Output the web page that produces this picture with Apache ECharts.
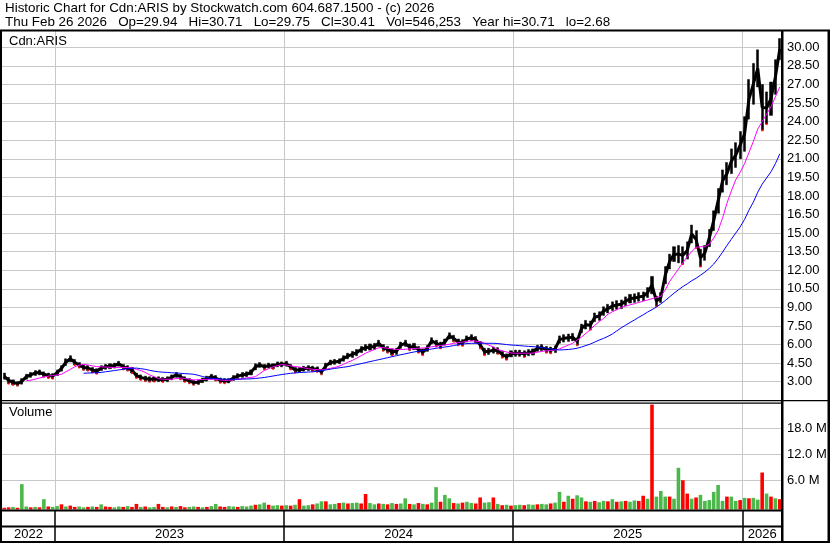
<!DOCTYPE html>
<html><head><meta charset="utf-8">
<script src="https://cdn.jsdelivr.net/npm/echarts@6/dist/echarts.min.js"></script>
<style>html,body{margin:0;padding:0;background:#fff}#c{width:830px;height:543px}</style>
</head><body><div id="c"></div>
<script>
// ---------------- data ----------------
const headerLines = [
  'Historic Chart for Cdn:ARIS by Stockwatch.com 604.687.1500 - (c) 2026',
  'Thu Feb 26 2026   Op=29.94   Hi=30.71   Lo=29.75   Cl=30.41   Vol=546,253   Year hi=30.71   lo=2.68'
];
const symbolLabel = 'Cdn:ARIS';
const volumeLabel = 'Volume';
const firstWeek = '2022-10-10';          // weekly categories start here
const yearLabels = ['2022', '2023', '2024', '2025', '2026'];

const weekLow = [
3.20,2.85,2.75,2.68,2.80,3.20,3.35,3.50,3.55,3.40,
3.30,3.25,3.50,3.85,4.30,4.60,4.35,4.15,3.95,3.90,
3.75,3.65,3.90,4.00,4.05,4.10,4.25,4.00,3.90,3.70,
3.30,3.15,3.05,3.00,3.02,3.00,2.98,3.00,3.15,3.35,
3.20,3.00,2.88,2.75,2.78,2.92,3.05,3.20,3.10,2.92,
2.88,2.90,3.10,3.25,3.35,3.40,3.55,3.95,4.15,4.00,
4.10,4.05,4.20,4.20,4.25,4.00,3.75,3.75,3.85,3.90,
3.85,3.80,3.60,4.05,4.35,4.40,4.45,4.65,4.85,4.95,
5.10,5.35,5.50,5.55,5.60,5.85,5.50,5.35,5.15,5.20,
5.70,5.85,5.55,5.60,5.35,5.15,5.45,6.05,5.85,5.70,
5.95,6.45,6.25,5.95,5.90,6.20,6.30,6.15,5.70,5.15,
5.20,5.30,5.25,4.95,4.78,5.00,5.05,5.05,5.00,5.10,
5.15,5.45,5.50,5.35,5.30,5.35,6.10,6.20,6.25,6.30,
5.95,6.95,7.25,7.20,7.85,7.95,8.35,8.55,8.75,8.85,
8.90,9.15,9.35,9.40,9.50,9.55,9.80,10.10,9.10,9.40,
10.90,12.10,12.70,12.60,12.50,12.90,14.20,13.80,12.30,12.80,
13.90,15.20,16.60,18.30,18.90,19.80,20.30,21.00,21.60,24.20,
25.40,26.80,23.30,23.80,24.50,26.20,29.00];

const weekHigh = [
3.70,3.35,3.15,3.00,3.25,3.60,3.75,3.90,3.95,3.80,
3.70,3.65,3.95,4.30,4.85,5.10,4.80,4.55,4.35,4.30,
4.15,4.05,4.30,4.40,4.45,4.50,4.65,4.40,4.30,4.15,
3.70,3.55,3.45,3.40,3.38,3.40,3.35,3.40,3.55,3.75,
3.60,3.40,3.25,3.10,3.15,3.30,3.45,3.60,3.50,3.30,
3.25,3.25,3.50,3.65,3.75,3.80,3.95,4.45,4.55,4.40,
4.50,4.45,4.60,4.60,4.65,4.40,4.15,4.15,4.25,4.30,
4.25,4.20,4.00,4.50,4.75,4.80,4.85,5.10,5.30,5.45,
5.60,5.85,6.00,6.05,6.10,6.35,6.00,5.85,5.65,5.70,
6.20,6.35,6.05,6.10,5.85,5.65,5.95,6.55,6.35,6.20,
6.45,6.95,6.75,6.45,6.40,6.70,6.80,6.65,6.25,5.70,
5.70,5.80,5.75,5.45,5.25,5.50,5.55,5.55,5.50,5.60,
5.65,5.95,6.00,5.85,5.80,5.90,6.70,6.80,6.85,6.90,
6.55,7.65,7.95,7.90,8.55,8.65,9.05,9.25,9.45,9.55,
9.60,9.85,10.05,10.10,10.20,10.25,10.60,11.50,9.90,10.20,
12.30,13.30,13.90,14.00,13.90,14.30,15.65,15.20,13.70,14.00,
15.30,16.80,18.60,20.10,20.70,21.80,22.30,23.20,24.40,27.40,
28.70,29.80,27.00,26.40,27.20,29.00,30.71];

// magenta (short) moving average
const maShort = [
null,null,null,null,null,3.08,3.12,3.20,3.30,3.38,
3.45,3.50,3.55,3.60,3.80,4.00,4.20,4.33,4.40,4.35,
4.28,4.22,4.20,4.18,4.16,4.15,4.15,4.15,4.15,4.10,
4.00,3.90,3.75,3.55,3.40,3.25,3.20,3.20,3.20,3.25,
3.30,3.25,3.20,3.15,3.15,3.18,3.20,3.20,3.18,3.15,
3.10,3.12,3.15,3.20,3.25,3.30,3.35,3.40,3.65,3.90,
4.05,4.20,4.30,4.38,4.35,4.28,4.22,4.18,4.12,4.06,
4.00,3.98,3.95,4.00,4.08,4.15,4.25,4.40,4.58,4.72,
4.90,5.10,5.30,5.45,5.60,5.75,5.75,5.70,5.65,5.60,
5.60,5.62,5.65,5.68,5.70,5.72,5.75,5.82,5.88,5.92,
5.97,6.02,6.10,6.15,6.20,6.25,6.30,6.28,6.22,6.10,
5.95,5.80,5.60,5.50,5.40,5.32,5.30,5.30,5.30,5.30,
5.30,5.38,5.45,5.50,5.52,5.55,5.65,5.80,5.95,6.10,
6.35,6.60,6.90,7.20,7.55,7.85,8.10,8.45,8.65,8.80,
9.00,9.10,9.20,9.30,9.40,9.50,9.60,9.70,9.80,9.90,
10.40,11.10,11.60,12.10,12.60,13.10,13.50,13.85,13.90,13.90,
14.10,14.60,15.20,16.20,17.40,18.40,19.30,19.90,20.60,21.50,
22.40,23.40,24.00,24.60,25.20,26.00,26.80];

// blue (long) moving average
const maLong = [
null,null,null,null,null,null,null,null,null,null,
null,null,null,null,null,null,null,null,3.68,3.70,
3.72,3.73,3.75,3.80,3.85,3.90,3.95,4.00,4.05,4.08,
4.10,4.05,4.00,3.92,3.85,3.80,3.77,3.75,3.72,3.70,
3.68,3.65,3.63,3.60,3.52,3.42,3.33,3.27,3.24,3.22,
3.20,3.20,3.20,3.20,3.21,3.22,3.23,3.26,3.30,3.34,
3.40,3.46,3.52,3.58,3.63,3.68,3.71,3.74,3.76,3.78,
3.80,3.84,3.89,3.95,4.01,4.07,4.12,4.17,4.22,4.30,
4.38,4.46,4.54,4.62,4.70,4.78,4.86,4.94,5.02,5.10,
5.18,5.25,5.33,5.40,5.46,5.52,5.58,5.64,5.70,5.75,
5.80,5.85,5.92,5.98,6.04,6.08,6.10,6.10,6.10,6.10,
6.10,6.10,6.08,6.04,6.00,5.96,5.94,5.91,5.88,5.85,
5.83,5.80,5.76,5.70,5.64,5.58,5.56,5.58,5.60,5.64,
5.70,5.80,5.92,6.04,6.20,6.36,6.50,6.66,6.85,7.10,
7.35,7.56,7.78,7.98,8.20,8.40,8.62,8.82,9.03,9.28,
9.55,9.85,10.15,10.42,10.68,10.90,11.15,11.35,11.60,11.85,
12.15,12.50,12.95,13.45,14.00,14.50,15.00,15.50,16.10,16.85,
17.50,18.30,18.95,19.45,19.95,20.60,21.40];

// volume, millions of shares
const volume = [
0.4,0.5,0.6,0.4,5.9,0.7,0.5,0.6,0.5,2.4,
0.7,0.6,0.8,1.2,0.7,0.9,0.6,0.7,0.5,0.6,
0.7,0.6,1.2,0.7,0.6,0.5,0.7,0.6,0.8,0.6,
1.3,0.6,0.7,0.5,0.6,1.3,0.6,0.5,0.7,0.6,
0.8,0.5,0.6,0.7,0.6,0.5,0.6,0.8,1.3,0.7,
0.6,0.8,0.7,0.6,0.8,0.7,0.9,1.1,1.2,1.6,
1.1,0.9,1.0,0.9,1.0,0.9,1.1,2.4,0.9,1.0,
1.2,1.4,1.9,1.9,1.2,1.3,1.5,1.6,1.4,1.5,
1.6,1.4,3.6,1.5,1.2,1.4,1.3,1.2,1.5,1.3,
1.4,2.6,1.3,1.2,1.5,1.3,1.2,1.6,5.2,1.8,
3.4,2.6,1.5,1.4,1.6,1.8,1.5,1.4,2.8,1.6,
1.7,2.8,1.3,1.0,1.1,0.9,1.0,1.1,1.0,1.2,
1.1,1.2,1.3,1.2,1.4,1.6,4.1,1.8,3.2,2.5,
3.3,2.8,1.9,1.8,2.0,1.7,2.0,1.9,2.4,1.8,
1.9,2.0,1.8,2.1,2.0,3.2,2.5,24.4,3.0,4.3,
3.0,3.0,2.5,9.7,6.8,3.7,2.5,2.8,3.4,2.0,
2.2,4.1,5.7,2.0,3.0,3.0,2.0,2.2,2.7,2.6,
2.7,2.3,8.6,3.7,3.0,2.6,2.4];
// g = up-day colour, r = down-day colour
const volumeColour =
'rrgrggrgrg' + 'rggrgrrggr' + 'grgrrggrgr' + 'rgrggrrgrg' + 'rrggrgrggr' +
'rggrgggrgg' + 'rggrgrgrgg' + 'rggrggrgrg' + 'grrggrgrgr' + 'ggrgrgrggr' +
'ggrgrggrrg' + 'grgrgrggrg' + 'grggrggrgr' + 'ggrgrggrgr' + 'grggrrgrgg' +
'grggrrgrgg' + 'ggggrggrgr' + 'ggrgrgr';

const priceTickStep = 1.5;
const volumeTickStep = 6;

// ---------------- build ----------------
const FONT = '"Liberation Sans", Arial, sans-serif';
const weeks = [];
const t0 = Date.UTC(+firstWeek.slice(0,4), +firstWeek.slice(5,7) - 1, +firstWeek.slice(8,10));
const weekYear = [];
for (let i = 0; i < weekLow.length; i++) {
  const d = new Date(t0 + i * 7 * 86400000);
  weeks.push(d.toISOString().slice(0, 10));
  weekYear.push(String(new Date(t0 + (i * 7 + 3) * 86400000).getUTCFullYear()));
}
const isYearStart = (i) => i > 0 && weekYear[i] !== weekYear[i - 1];
const yearSpans = yearLabels.map(y => [weekYear.indexOf(y), weekYear.lastIndexOf(y)]);
const candle = weekLow.map((l, i) => [l, weekHigh[i], l, weekHigh[i]]);
const weekMid = weekLow.map((l, i) => +((l + weekHigh[i]) / 2).toFixed(3));
// red ticks on weeks whose range moved down
const downTicks = weekLow.map((l, i) => (i > 0 && weekHigh[i] < weekHigh[i - 1]) ? [i, l] : null).filter(Boolean);

// pixel layout of the panels
const L = 2, R = 48;
const priceGrid = { left: L, right: R, top: 31, bottom: 543 - 400.28 };
const volLabelGrid = { left: L, right: R, top: 404, bottom: 543 - 505.8 };
const volBarGrid = { left: L, right: R, top: 404, bottom: 543 - 509.5 };
const yearGrid = { left: L, right: R, top: 510, bottom: 1 };

const grey = '#c8c8c8';
function catAxis(gridIndex, splitColor, splitWidth) {
  return {
    type: 'category', gridIndex, data: weeks, boundaryGap: true,
    axisLine: { show: false }, axisTick: { show: false }, axisLabel: { show: false },
    splitLine: { show: true, interval: (idx) => isYearStart(idx),
      lineStyle: { color: splitColor, width: splitWidth } }
  };
}

const chart = echarts.init(document.getElementById('c'), null, { renderer: 'canvas' });
const option = {
  animation: false,
  backgroundColor: '#fff',
  title: {
    text: headerLines.join('\n'), left: 5, top: 1.5, padding: 0,
    textStyle: { fontFamily: FONT, fontSize: 13.4, fontWeight: 'normal', color: '#000', lineHeight: 13.7 }
  },
  grid: [priceGrid, volLabelGrid, volBarGrid, yearGrid],
  xAxis: [catAxis(0, grey, 1), catAxis(1, 'rgba(0,0,0,0)', 1), catAxis(2, grey, 1), catAxis(3, '#000', 1.5)],
  yAxis: [
    { type: 'value', gridIndex: 0, position: 'right', min: 1.5, max: 31.317, interval: priceTickStep,
      axisLine: { show: false }, axisTick: { show: false },
      axisLabel: { margin: 5, color: '#000', fontFamily: FONT, fontSize: 13,
        showMinLabel: false, showMaxLabel: false, formatter: v => v.toFixed(2) },
      splitLine: { lineStyle: { color: grey }, showMinLine: false, showMaxLine: false } },
    { type: 'value', gridIndex: 1, position: 'right', min: 0, max: 23.67, interval: volumeTickStep,
      axisLine: { show: false }, axisTick: { show: false },
      axisLabel: { margin: 5, color: '#000', fontFamily: FONT, fontSize: 13,
        showMinLabel: false, showMaxLabel: false, formatter: v => v.toFixed(1) + ' M' },
      splitLine: { lineStyle: { color: grey }, showMinLine: false, showMaxLine: false } },
    { type: 'value', gridIndex: 2, min: 0, max: 24.535, show: false, splitLine: { show: false } },
    { type: 'value', gridIndex: 3, min: 0, max: 1, show: false, splitLine: { show: false } }
  ],
  series: [
    { type: 'line', xAxisIndex: 0, yAxisIndex: 0, data: weekMid, showSymbol: false,
      lineStyle: { color: '#000', width: 3 }, z: 2, silent: true },
    { type: 'candlestick', xAxisIndex: 0, yAxisIndex: 0, data: candle, barWidth: 2.6,
      itemStyle: { color: '#000', color0: '#000', borderColor: '#000', borderColor0: '#000', borderWidth: 0.5 } },
    { type: 'scatter', xAxisIndex: 0, yAxisIndex: 0, data: downTicks, symbol: 'rect', symbolSize: [2, 2],
      itemStyle: { color: '#ff0000' }, z: 2.5, silent: true },
    { type: 'line', xAxisIndex: 0, yAxisIndex: 0, data: maShort, showSymbol: false, connectNulls: false,
      lineStyle: { color: '#ff00ff', width: 1 }, z: 3 },
    { type: 'line', xAxisIndex: 0, yAxisIndex: 0, data: maLong, showSymbol: false, connectNulls: false,
      lineStyle: { color: '#0000ff', width: 1 }, z: 3 },
    { type: 'bar', xAxisIndex: 2, yAxisIndex: 2, data: volume, barWidth: 3.6,
      itemStyle: { color: p => volumeColour[p.dataIndex] === 'g' ? '#4cb84c' : '#ff0000' } },
    { type: 'custom', xAxisIndex: 3, yAxisIndex: 3, data: yearSpans, clip: false,
      renderItem: (params, api) => {
        const bw = api.size([1, 0])[0];
        const x0 = api.coord([api.value(0), 0])[0] - bw / 2;
        const x1 = api.coord([api.value(1), 0])[0] + bw / 2;
        const cs = params.coordSys;
        return { type: 'text', x: (x0 + x1) / 2, y: cs.y + cs.height - 8,
          style: { text: yearLabels[params.dataIndex], fill: '#000', font: '13px ' + FONT,
            align: 'center', verticalAlign: 'middle' } };
      } }
  ],
  graphic: [
    { type: 'text', left: 9, top: 35, z: 100, style: { text: symbolLabel, fill: '#000', font: '13px ' + FONT } },
    { type: 'text', left: 9, top: 406, z: 100, style: { text: volumeLabel, fill: '#000', font: '13px ' + FONT } },
    // frame
    { type: 'rect', z: 100, shape: { x: 0, y: 29.5, width: 830, height: 2 }, style: { fill: '#000' } },
    { type: 'rect', z: 100, shape: { x: 0, y: 30, width: 2, height: 513 }, style: { fill: '#000' } },
    { type: 'rect', z: 100, shape: { x: 781, y: 30, width: 2.5, height: 513 }, style: { fill: '#000' } },
    { type: 'rect', z: 100, shape: { x: 827.5, y: 30, width: 2.5, height: 513 }, style: { fill: '#000' } },
    { type: 'rect', z: 100, shape: { x: 0, y: 400, width: 830, height: 1.2 }, style: { fill: '#000' } },
    { type: 'rect', z: 100, shape: { x: 0, y: 402.5, width: 782, height: 1.2 }, style: { fill: '#000' } },
    { type: 'rect', z: 100, shape: { x: 0, y: 509.5, width: 782, height: 2 }, style: { fill: '#000' } },
    { type: 'rect', z: 100, shape: { x: 0, y: 525.5, width: 782, height: 2 }, style: { fill: '#000' } },
    { type: 'rect', z: 100, shape: { x: 0, y: 541, width: 830, height: 2 }, style: { fill: '#000' } }
  ]
};
chart.setOption(option);
</script></body></html>
